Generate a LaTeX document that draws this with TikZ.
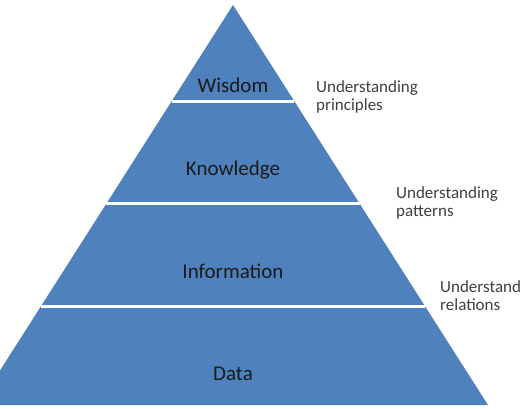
\documentclass[tikz,border=0pt]{standalone}
\usepackage{fontspec}
\setmainfont{Carlito}
\usetikzlibrary{calc,positioning}
\definecolor{Pyramid}{HTML}{4F81BD}
\definecolor{Ink}{HTML}{1A1A1A}
\definecolor{Note}{HTML}{3F3F3F}
\tikzset{level/.style={font=\fontsize{21}{25}\selectfont,text=Ink,inner sep=0pt},note/.style={font=\fontsize{17}{18}\selectfont,text=Note,align=left,anchor=west,inner sep=0pt},gap/.style={draw=white,line width=3pt}}

\begin{document}
\begin{tikzpicture}[x=1pt,y=-1pt]
      \useasboundingbox (0,0) rectangle (520,409);
      \clip (0,0) rectangle (520,409);
      \coordinate (apex) at (233,5);\coordinate (baseL) at (-22,405);\coordinate (baseR) at (488,405);
      \fill[Pyramid](apex)--(baseR)--(baseL)--cycle;
      \draw[gap]($(apex)!.24!(baseL)$)--($(apex)!.24!(baseR)$);
      \draw[gap]($(apex)!.4975!(baseL)$)--($(apex)!.4975!(baseR)$);
      \draw[gap]($(apex)!.7525!(baseL)$)--($(apex)!.7525!(baseR)$);
      \node[level](wisdom) at (233,85){Wisdom};
      \node[level](knowledge) at (233,170){Knowledge};
      \node[level](information) at (233,271){Information};
      \node[level](data) at (233,374){Data};
      \node[note](principles) at (316,97){Understanding\\principles};
      \node[note](patterns) at (396,203){Understanding\\patterns};
      \node[note](relations) at (440,296){Understanding\\relations};
    \end{tikzpicture}
\end{document}
